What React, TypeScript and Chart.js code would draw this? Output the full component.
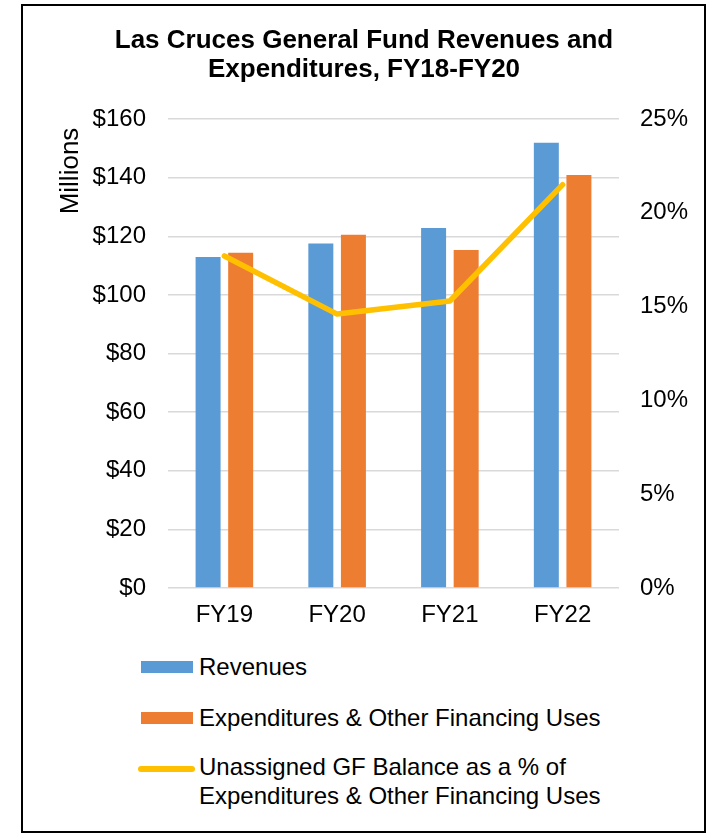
import React, { useEffect, useRef } from "react";
import { Chart, registerables } from "chart.js";

Chart.register(...registerables);

const categories = ["FY19", "FY20", "FY21", "FY22"];
const revenues = [112.9, 117.5, 122.8, 151.9];
const expenditures = [114.4, 120.5, 115.3, 140.9];
const balancePct = [17.7, 14.6, 15.3, 21.5];

const titleLines = ["Las Cruces General Fund Revenues and", "Expenditures, FY18-FY20"];
const unitsText = "Millions";
const legendLabels = [
  "Revenues",
  "Expenditures & Other Financing Uses",
  "Unassigned GF Balance as a % of",
  "Expenditures & Other Financing Uses",
];

const FONT = '"Liberation Sans", Arial, sans-serif';
const BLUE = "#5B9BD5";
const ORANGE = "#ED7D31";
const YELLOW = "#FFC000";

const unitsLabel = {
  id: "unitsLabel",
  afterDraw(chart: any) {
    const ctx = chart.ctx;
    const area = chart.chartArea;
    ctx.save();
    ctx.font = `26px ${FONT}`;
    ctx.fillStyle = "#000";
    ctx.textAlign = "center";
    ctx.textBaseline = "middle";
    ctx.translate(area.left - 97, area.top + 52);
    ctx.rotate(-Math.PI / 2);
    ctx.fillText(unitsText, 0, 0);
    ctx.restore();
  },
};

export default function App() {
  const ref = useRef<HTMLCanvasElement | null>(null);

  useEffect(() => {
    if (!ref.current) return;
    const chart = new Chart(ref.current, {
      type: "bar",
      data: {
        labels: categories,
        datasets: [
          {
            type: "line",
            label: "Unassigned GF Balance as a % of Expenditures & Other Financing Uses",
            data: balancePct,
            yAxisID: "y1",
            borderColor: YELLOW,
            backgroundColor: YELLOW,
            borderWidth: 5.5,
            borderCapStyle: "round",
            borderJoinStyle: "round",
            pointRadius: 0,
            tension: 0,
            order: 0,
          } as any,
          {
            type: "bar",
            label: "Revenues",
            data: revenues,
            yAxisID: "y",
            backgroundColor: BLUE,
            categoryPercentage: 0.578,
            barPercentage: 0.767,
            order: 1,
          },
          {
            type: "bar",
            label: "Expenditures & Other Financing Uses",
            data: expenditures,
            yAxisID: "y",
            backgroundColor: ORANGE,
            categoryPercentage: 0.578,
            barPercentage: 0.767,
            order: 1,
          },
        ],
      },
      options: {
        responsive: false,
        animation: false,
        layout: { padding: { left: 20, right: 0, top: 0, bottom: 0 } },
        plugins: {
          legend: { display: false },
          tooltip: { enabled: false },
          title: {
            display: true,
            text: titleLines,
            color: "#000",
            font: { family: FONT, size: 26, weight: "bold", lineHeight: 29 / 26 },
            padding: { top: 26.5, bottom: 34.5 },
          },
        },
        scales: {
          x: {
            grid: { display: false, drawTicks: false },
            border: { display: false },
            ticks: { color: "#000", font: { family: FONT, size: 24 }, padding: 13 },
            afterFit(scale: any) {
              scale.height = 52;
            },
          },
          y: {
            position: "left",
            min: 0,
            max: 160,
            ticks: {
              stepSize: 20,
              color: "#000",
              font: { family: FONT, size: 24 },
              padding: 22,
              callback: (v: any) => "$" + v,
            },
            grid: { color: "#D9D9D9", lineWidth: 1.5, drawTicks: false },
            border: { display: false },
            afterFit(scale: any) {
              scale.width = 148;
            },
          },
          y1: {
            position: "right",
            min: 0,
            max: 25,
            ticks: {
              stepSize: 5,
              color: "#000",
              font: { family: FONT, size: 24 },
              padding: 21,
              callback: (v: any) => v + "%",
            },
            grid: { display: false, drawTicks: false },
            border: { display: false },
            afterFit(scale: any) {
              scale.width = 89;
            },
          },
        },
      },
      plugins: [unitsLabel],
    });
    return () => chart.destroy();
  }, []);

  const textStyle: React.CSSProperties = {
    position: "absolute",
    left: 199,
    fontFamily: FONT,
    fontSize: 24,
    lineHeight: "29px",
    color: "#000",
    whiteSpace: "nowrap",
  };

  return (
    <div>
      <div
        style={{
          position: "absolute",
          left: 21,
          top: 4,
          width: 685,
          height: 829,
          border: "2px solid #000",
          boxSizing: "border-box",
          background: "#fff",
        }}
      />
      <canvas
        ref={ref}
        width={708}
        height={640}
        style={{ position: "absolute", left: 0, top: 0, width: 708, height: 640 }}
      />
      <div style={{ position: "absolute", left: 141, top: 661, width: 52, height: 12, background: BLUE }} />
      <div style={{ ...textStyle, top: 652 }}>{legendLabels[0]}</div>
      <div style={{ position: "absolute", left: 141, top: 712, width: 52, height: 12, background: ORANGE }} />
      <div style={{ ...textStyle, top: 703 }}>{legendLabels[1]}</div>
      <div
        style={{
          position: "absolute",
          left: 138,
          top: 766,
          width: 57,
          height: 6,
          borderRadius: 3,
          background: YELLOW,
        }}
      />
      <div style={{ ...textStyle, top: 752 }}>
        {legendLabels[2]}
        <br />
        {legendLabels[3]}
      </div>
    </div>
  );
}
